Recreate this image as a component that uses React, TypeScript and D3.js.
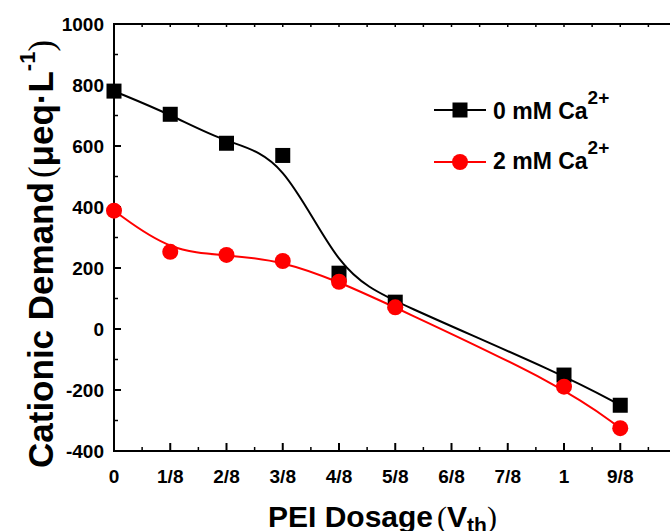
import React from 'react';
import * as d3 from 'd3';

const xTickLabels = ['0', '1/8', '2/8', '3/8', '4/8', '5/8', '6/8', '7/8', '1', '9/8'];
const dosage = [0, 1 / 8, 2 / 8, 3 / 8, 4 / 8, 5 / 8, 1, 9 / 8];
const ca0 = [780, 704, 609, 569, 183, 88, -151, -250];
const ca2 = [388, 253, 243, 223, 155, 71, -189, -325];
const yTicks = [-400, -200, 0, 200, 400, 600, 800, 1000];

const W = 670;
const H = 531;
const FONT = '"Liberation Sans", Arial, sans-serif';
const SERIF = '"Liberation Serif", "Times New Roman", serif';

export default function App() {
  const x = d3.scaleLinear().domain([0, 1.25]).range([114, 676.5]);
  const y = d3.scaleLinear().domain([-400, 1000]).range([451, 24]);
  const x0 = x(0);
  const yb = y(-400);
  const yt = y(1000);

  const mkLine = (vals: number[]) =>
    d3
      .line<number>()
      .x((_, i) => x(dosage[i]))
      .y((d) => y(d))
      .curve(d3.curveBasis)(vals) as string;

  const majorX = d3.range(0, 11).map((k) => k / 8);
  const minorX = d3.range(0, 10).map((k) => (k + 0.5) / 8);
  const minorY = d3.range(-300, 1000, 200);

  return (
    <svg
      width={W}
      height={H}
      style={{ position: 'absolute', left: 0, top: 0, background: '#fff' }}
      fontFamily={FONT}
    >
      <rect x={0} y={0} width={W} height={H} fill="#fff" />
      {/* axes */}
      <line x1={x0} x2={x0} y1={yt - 1} y2={yb + 1} stroke="#000" strokeWidth={2} />
      <line x1={x0 - 1} x2={W} y1={yb} y2={yb} stroke="#000" strokeWidth={2} />
      <line x1={x0 - 1} x2={W} y1={yt} y2={yt} stroke="#000" strokeWidth={2} />

      {/* x ticks */}
      {majorX.map((v, i) => (
        <g key={'mx' + i}>
          <line x1={x(v)} x2={x(v)} y1={yb} y2={yb - 8} stroke="#000" strokeWidth={2} />
          <line x1={x(v)} x2={x(v)} y1={yt} y2={yt + 3} stroke="#000" strokeWidth={1.5} />
        </g>
      ))}
      {minorX.map((v, i) => (
        <g key={'nx' + i}>
          <line x1={x(v)} x2={x(v)} y1={yb} y2={yb - 4} stroke="#000" strokeWidth={1.5} />
          <line x1={x(v)} x2={x(v)} y1={yt} y2={yt + 3} stroke="#000" strokeWidth={1.5} />
        </g>
      ))}
      {xTickLabels.map((t, i) => (
        <text
          key={'xl' + i}
          x={x(i / 8)}
          y={483}
          textAnchor="middle"
          fontSize={19}
          fontWeight="bold"
        >
          {t}
        </text>
      ))}

      {/* y ticks */}
      {yTicks.map((v) => (
        <g key={'yt' + v}>
          <line x1={x0} x2={x0 + 7} y1={y(v)} y2={y(v)} stroke="#000" strokeWidth={2} />
          <text
            x={104}
            y={y(v)}
            dy="0.35em"
            textAnchor="end"
            fontSize={19}
            fontWeight="bold"
          >
            {v}
          </text>
        </g>
      ))}
      {minorY.map((v) => (
        <line key={'ny' + v} x1={x0} x2={x0 + 4} y1={y(v)} y2={y(v)} stroke="#000" strokeWidth={1.5} />
      ))}

      {/* lines */}
      <path d={mkLine(ca0)} fill="none" stroke="#000" strokeWidth={2} />
      <path d={mkLine(ca2)} fill="none" stroke="#ff0000" strokeWidth={2} />

      {/* markers */}
      {ca0.map((v, i) => (
        <rect key={'s' + i} x={x(dosage[i]) - 7.5} y={y(v) - 7.5} width={15} height={15} fill="#000" />
      ))}
      {ca2.map((v, i) => (
        <circle key={'c' + i} cx={x(dosage[i])} cy={y(v)} r={8} fill="#ff0000" />
      ))}

      {/* legend */}
      <line x1={434} x2={486} y1={110} y2={110} stroke="#000" strokeWidth={2} />
      <rect x={452.5} y={102.5} width={15} height={15} fill="#000" />
      <text x={493} y={119} fontSize={23} fontWeight="bold">
        0 mM Ca
        <tspan fontSize={19} dy={-15}>2+</tspan>
      </text>
      <line x1={434} x2={486} y1={162} y2={162} stroke="#ff0000" strokeWidth={2} />
      <circle cx={460} cy={162} r={8} fill="#ff0000" />
      <text x={493} y={169} fontSize={23} fontWeight="bold">
        2 mM Ca
        <tspan fontSize={19} dy={-15}>2+</tspan>
      </text>

      {/* x title */}
      <text x={268} y={527} fontSize={30} fontWeight="bold">
        PEI Dosage
        <tspan fontFamily={SERIF} fontWeight="normal" dx={4}>(</tspan>
        <tspan>V</tspan>
        <tspan fontSize={21} dy={5}>th</tspan>
        <tspan fontFamily={SERIF} fontWeight="normal" dy={-5}>)</tspan>
      </text>

      {/* y title */}
      <text transform="translate(53,468) rotate(-90)" fontSize={35} fontWeight="bold">
        Cationic Demand
        <tspan fontFamily={SERIF} fontWeight="normal" dx={4}>(</tspan>
        <tspan>μeq·L</tspan>
        <tspan fontSize={22} dy={-18}>-1</tspan>
        <tspan fontFamily={SERIF} fontWeight="normal" dy={18}>)</tspan>
      </text>
    </svg>
  );
}
